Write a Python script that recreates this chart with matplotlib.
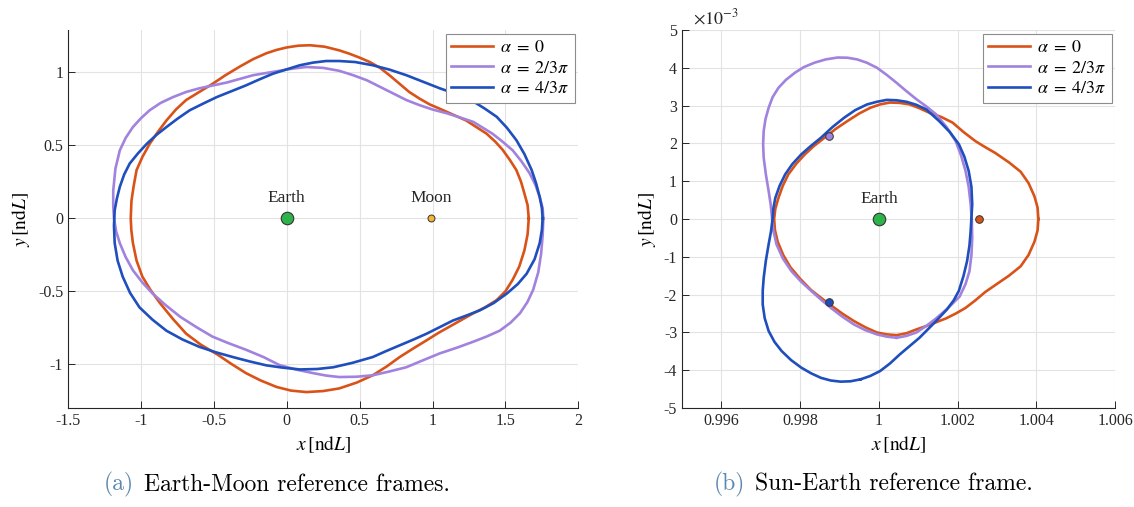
import numpy as np
import matplotlib.pyplot as plt
from matplotlib.ticker import FuncFormatter

plt.rcParams['mathtext.fontset'] = 'stix'
plt.rcParams['font.family'] = ['Liberation Serif', 'DejaVu Serif']

# ---- Earth-Moon frame (left) ----
em_x_a0 = [1.66, 1.652, 1.63, 1.607, 1.575, 1.53, 1.48, 1.43, 1.37, 1.30,
           1.23, 1.14, 1.05, 0.98, 0.91, 0.84, 0.775, 0.71, 0.64, 0.57,
           0.50, 0.43, 0.36, 0.26, 0.16, 0.08, 0.0, -0.07, -0.14, -0.23,
           -0.32, -0.42, -0.51, -0.60, -0.69, -0.76, -0.825, -0.885, -0.94, -0.99,
           -1.03, -1.05, -1.065, -1.07, -1.066, -1.055, -1.03, -0.99, -0.935, -0.87,
           -0.78, -0.69, -0.59, -0.48, -0.38, -0.28, -0.18, -0.07, 0.03, 0.135,
           0.25, 0.36, 0.48, 0.59, 0.685, 0.775, 0.87, 0.96, 1.04, 1.12,
           1.20, 1.28, 1.36, 1.44, 1.50, 1.55, 1.595, 1.63, 1.652, 1.66]
em_y_a0 = [0.0, 0.09, 0.17, 0.25, 0.33, 0.40, 0.47, 0.525, 0.58, 0.625,
           0.67, 0.71, 0.75, 0.78, 0.82, 0.865, 0.92, 0.975, 1.03, 1.07,
           1.10, 1.127, 1.15, 1.175, 1.185, 1.182, 1.17, 1.153, 1.13, 1.09,
           1.04, 0.98, 0.92, 0.865, 0.81, 0.745, 0.67, 0.59, 0.51, 0.42,
           0.33, 0.22, 0.12, 0.0, -0.08, -0.17, -0.29, -0.40, -0.49, -0.58,
           -0.69, -0.79, -0.865, -0.93, -0.997, -1.06, -1.11, -1.155, -1.18, -1.19,
           -1.183, -1.165, -1.125, -1.075, -1.015, -0.95, -0.89, -0.835, -0.785, -0.74,
           -0.695, -0.65, -0.61, -0.56, -0.50, -0.42, -0.33, -0.22, -0.11, 0.0]

em_x_a1 = [1.76, 1.755, 1.735, 1.705, 1.665, 1.61, 1.55, 1.48, 1.41, 1.345,
           1.28, 1.19, 1.095, 1.0, 0.91, 0.82, 0.73, 0.64, 0.55, 0.455,
           0.36, 0.25, 0.135, 0.04, -0.05, -0.14, -0.23, -0.32, -0.41, -0.505,
           -0.60, -0.69, -0.78, -0.865, -0.94, -1.0, -1.055, -1.105, -1.145, -1.175,
           -1.19, -1.19, -1.185, -1.17, -1.145, -1.105, -1.055, -0.99, -0.92, -0.83,
           -0.73, -0.62, -0.51, -0.40, -0.28, -0.16, -0.05, 0.06, 0.18, 0.27,
           0.36, 0.48, 0.59, 0.70, 0.82, 0.94, 1.05, 1.17, 1.28, 1.37,
           1.46, 1.535, 1.60, 1.65, 1.69, 1.725, 1.745, 1.755, 1.76]
em_y_a1 = [0.0, 0.07, 0.146, 0.23, 0.31, 0.39, 0.465, 0.525, 0.58, 0.62,
           0.66, 0.69, 0.72, 0.745, 0.775, 0.81, 0.855, 0.90, 0.945, 0.98,
           1.01, 1.03, 1.036, 1.025, 1.01, 0.995, 0.98, 0.955, 0.93, 0.91,
           0.89, 0.865, 0.83, 0.79, 0.74, 0.685, 0.625, 0.55, 0.465, 0.34,
           0.19, 0.09, 0.0, -0.09, -0.17, -0.265, -0.356, -0.44, -0.515, -0.595,
           -0.675, -0.745, -0.81, -0.855, -0.90, -0.95, -1.005, -1.035, -1.06, -1.077,
           -1.087, -1.085, -1.075, -1.05, -1.02, -0.97, -0.925, -0.885, -0.845, -0.81,
           -0.77, -0.715, -0.65, -0.575, -0.49, -0.37, -0.24, -0.12, 0.0]

em_x_a2 = [1.755, 1.75, 1.735, 1.71, 1.68, 1.63, 1.575, 1.51, 1.44, 1.36,
           1.28, 1.165, 1.05, 0.935, 0.82, 0.705, 0.59, 0.47, 0.36, 0.27,
           0.18, 0.09, 0.0, -0.095, -0.19, -0.28, -0.38, -0.48, -0.57, -0.665,
           -0.745, -0.825, -0.895, -0.96, -1.02, -1.077, -1.115, -1.145, -1.165, -1.18,
           -1.185, -1.18, -1.16, -1.125, -1.075, -1.01, -0.92, -0.825, -0.715, -0.60,
           -0.485, -0.37, -0.255, -0.14, -0.025, 0.09, 0.21, 0.32, 0.45, 0.59,
           0.68, 0.775, 0.87, 0.96, 1.05, 1.14, 1.235, 1.325, 1.42, 1.51,
           1.585, 1.645, 1.70, 1.735, 1.75, 1.755]
em_y_a2 = [0.0, 0.07, 0.146, 0.24, 0.33, 0.44, 0.535, 0.62, 0.695, 0.75,
           0.80, 0.85, 0.89, 0.935, 0.98, 1.018, 1.048, 1.07, 1.077, 1.077,
           1.066, 1.048, 1.02, 0.99, 0.95, 0.91, 0.87, 0.83, 0.787, 0.74,
           0.685, 0.625, 0.57, 0.51, 0.445, 0.375, 0.30, 0.215, 0.135, 0.055,
           -0.05, -0.17, -0.29, -0.40, -0.51, -0.61, -0.695, -0.77, -0.83, -0.88,
           -0.918, -0.95, -0.98, -1.007, -1.023, -1.035, -1.032, -1.02, -0.99, -0.95,
           -0.91, -0.87, -0.83, -0.79, -0.745, -0.70, -0.665, -0.63, -0.58, -0.515,
           -0.45, -0.38, -0.28, -0.17, -0.08, 0.0]

earth_em = (0.0, 0.0)
moon_em = (0.988, 0.0)

# ---- Sun-Earth frame (right), y in units of 1e-3 ----
se_x_a0 = [1.00405, 1.00403, 1.00395, 1.0038, 1.0036, 1.0033, 1.00295, 1.0027, 1.00245, 1.00215,
           1.00187, 1.00158, 1.00128, 1.00103, 1.00078, 1.00053, 1.00028, 1.00003, 0.99978, 0.9995,
           0.9992, 0.9989, 0.99862, 0.99835, 0.99812, 0.9979, 0.9977, 0.99756, 0.99745, 0.99737,
           0.99734, 0.99736, 0.99743, 0.99757, 0.99775, 0.998, 0.99828, 0.99855, 0.99878, 0.99907,
           0.99937, 0.99967, 0.99995, 1.0002, 1.00045, 1.0007, 1.00095, 1.0012, 1.00145, 1.0017,
           1.00195, 1.0022, 1.00245, 1.0027, 1.00295, 1.0033, 1.0036, 1.0038, 1.00395, 1.00403,
           1.00405]
se_y_a0 = [0.0, 0.3, 0.6, 0.95, 1.25, 1.5, 1.75, 1.9, 2.06, 2.3,
           2.55, 2.7, 2.81, 2.93, 3.03, 3.07, 3.08, 3.03, 2.94, 2.79,
           2.59, 2.38, 2.15, 1.93, 1.71, 1.46, 1.18, 0.88, 0.56, 0.27,
           0.0, -0.29, -0.6, -0.95, -1.27, -1.58, -1.88, -2.1, -2.28, -2.5,
           -2.7, -2.87, -3.0, -3.05, -3.07, -3.02, -2.92, -2.83, -2.73, -2.63,
           -2.5, -2.35, -2.15, -1.93, -1.75, -1.5, -1.25, -0.95, -0.6, -0.3,
           0.0]

se_x_a1 = [1.00045, 1.0007, 1.00095, 1.0012, 1.00145, 1.00175, 1.00205, 1.0022, 1.0023, 1.00235,
           1.00237, 1.00236, 1.00233, 1.00228, 1.0022, 1.00209, 1.00195, 1.00172, 1.00145, 1.0012,
           1.00095, 1.0007, 1.00045, 1.0002, 0.99995, 0.9997, 0.99945, 0.9992, 0.99895, 0.99865,
           0.99837, 0.9981, 0.99787, 0.99764, 0.99745, 0.9973, 0.9972, 0.99712, 0.997075, 0.99706,
           0.997075, 0.99713, 0.9972, 0.99725, 0.99728, 0.99732, 0.9974, 0.99756, 0.99778, 0.99802,
           0.99828, 0.99853, 0.99878, 0.99907, 0.99937, 0.99966, 0.99995, 1.0002, 1.00045]
se_y_a1 = [-3.14, -3.09, -3.0, -2.83, -2.63, -2.36, -2.05, -1.72, -1.38, -0.95,
           -0.5, -0.05, 0.39, 0.85, 1.27, 1.67, 2.06, 2.43, 2.77, 2.98,
           3.17, 3.38, 3.6, 3.81, 4.0, 4.13, 4.22, 4.265, 4.27, 4.22,
           4.135, 4.02, 3.87, 3.68, 3.47, 3.22, 2.94, 2.64, 2.33, 1.98,
           1.62, 1.18, 0.74, 0.4, 0.1, -0.3, -0.67, -1.04, -1.38, -1.65,
           -1.9, -2.13, -2.35, -2.58, -2.79, -2.94, -3.05, -3.11, -3.14]

se_x_a2 = [0.99953, 0.99978, 1.00003, 1.00028, 1.00053, 1.00078, 1.00103, 1.00125, 1.00145, 1.00172,
           1.0019, 1.00203, 1.00215, 1.00224, 1.0023, 1.00233, 1.00237, 1.00235, 1.00228, 1.00217,
           1.00203, 1.0018, 1.00153, 1.0012, 1.00095, 1.0007, 1.00045, 1.0002, 0.99995, 0.9997,
           0.9994, 0.99912, 0.99882, 0.99853, 0.99827, 0.99803, 0.9978, 0.99762, 0.99748, 0.99737,
           0.99732, 0.9973, 0.99726, 0.9972, 0.99713, 0.997075, 0.99705, 0.99705, 0.9971, 0.9972,
           0.99735, 0.99753, 0.99777, 0.99803, 0.99828, 0.99853, 0.99878, 0.99903, 0.99928, 0.99953]
se_y_a2 = [-4.24, -4.15, -4.02, -3.82, -3.58, -3.36, -3.14, -2.91, -2.7, -2.4,
           -2.15, -1.9, -1.5, -1.11, -0.7, -0.32, 0.39, 0.85, 1.27, 1.65,
           1.98, 2.3, 2.59, 2.9, 3.02, 3.1, 3.14, 3.15, 3.1, 3.03,
           2.88, 2.68, 2.43, 2.15, 1.93, 1.71, 1.45, 1.18, 0.88, 0.56,
           0.28, 0.0, -0.33, -0.67, -1.1, -1.55, -1.9, -2.26, -2.62, -2.96,
           -3.25, -3.49, -3.73, -3.93, -4.08, -4.2, -4.27, -4.3, -4.29, -4.24]

earth_se = (1.0, 0.0)
dots_se_x = [1.00255, 0.998725, 0.998725]
dots_se_y = [0.0, 2.2, -2.2]

labels = [r'$\alpha\;=\;0$', r'$\alpha\;=\;2/3\pi$', r'$\alpha\;=\;4/3\pi$']
colors = ['#D95319', '#A182DE', '#1F4EBD']
lw = 1.9

fig = plt.figure(figsize=(11.34, 5.07), dpi=100)
ax1 = fig.add_axes([0.060, 0.195, 0.450, 0.746])
ax2 = fig.add_axes([0.6014, 0.195, 0.382, 0.746])

fmt = FuncFormatter(lambda v, p: '%g' % round(v, 6))


def style(ax):
    for s in ['top', 'right']:
        ax.spines[s].set_visible(False)
    for s in ['left', 'bottom']:
        ax.spines[s].set_color('#262626')
        ax.spines[s].set_linewidth(0.8)
    ax.tick_params(direction='in', length=5, width=0.7, colors='#262626', labelsize=11.5)
    ax.grid(True, color='#e3e3e3', linewidth=0.8)
    ax.set_axisbelow(True)
    ax.set_xlabel(r'$x\,[\mathrm{nd}L]$', fontsize=14, labelpad=4)
    ax.set_ylabel(r'$y\,[\mathrm{nd}L]$', fontsize=14, labelpad=4)


def add_legend(ax):
    leg = ax.legend(loc='upper right', fontsize=13, fancybox=False, framealpha=1,
                    edgecolor='#8c8c8c', handlelength=2.3, borderpad=0.3, labelspacing=0.2,
                    handletextpad=0.4, borderaxespad=0.2)
    leg.get_frame().set_linewidth(0.8)


# left
series_em = [(em_x_a0, em_y_a0), (em_x_a1, em_y_a1), (em_x_a2, em_y_a2)]
for (xs, ys), c, lab in zip(series_em, colors, labels):
    ax1.plot(xs, ys, color=c, lw=lw, label=lab)
ax1.plot(*earth_em, 'o', ms=9, mfc='#2DB34A', mec='#333333', mew=0.8)
ax1.plot(*moon_em, 'o', ms=5, mfc='#F4B731', mec='#333333', mew=0.7)
ax1.annotate('Earth', earth_em, xytext=(0, 9), textcoords='offset points',
             ha='center', va='bottom', fontsize=12.5, color='#262626')
ax1.annotate('Moon', moon_em, xytext=(0, 9), textcoords='offset points',
             ha='center', va='bottom', fontsize=12.5, color='#262626')
ax1.set_xlim(-1.5, 2)
ax1.set_ylim(-1.3, 1.29)
ax1.set_xticks(np.arange(-1.5, 2.01, 0.5))
ax1.set_yticks([-1, -0.5, 0, 0.5, 1])
ax1.xaxis.set_major_formatter(fmt)
ax1.yaxis.set_major_formatter(fmt)
style(ax1)
add_legend(ax1)

# right
series_se = [(se_x_a0, se_y_a0), (se_x_a1, se_y_a1), (se_x_a2, se_y_a2)]
for (xs, ys), c, lab in zip(series_se, colors, labels):
    ax2.plot(xs, np.array(ys) * 1e-3, color=c, lw=lw, label=lab)
ax2.plot(earth_se[0], earth_se[1], 'o', ms=9, mfc='#2DB34A', mec='#333333', mew=0.8)
for dx, dy, c in zip(dots_se_x, dots_se_y, colors):
    ax2.plot(dx, dy * 1e-3, 'o', ms=5.5, mfc=c, mec='#333333', mew=0.7)
ax2.annotate('Earth', earth_se, xytext=(0, 9), textcoords='offset points',
             ha='center', va='bottom', fontsize=12.5, color='#262626')
ax2.set_xlim(0.995, 1.006)
ax2.set_ylim(-5e-3, 5e-3)
ax2.set_xticks(np.arange(0.996, 1.0061, 0.002))
ax2.set_yticks(np.arange(-5, 6) * 1e-3)
ax2.xaxis.set_major_formatter(fmt)
ax2.yaxis.set_major_formatter(FuncFormatter(lambda v, p: '%g' % round(v * 1e3, 6)))
ax2.text(0.025, 1.005, r'$\times10^{-3}$', transform=ax2.transAxes, fontsize=13,
         ha='left', va='bottom', color='#262626')
style(ax2)
add_legend(ax2)

# captions
cap_col = '#5E88AE'
fig.text(0.118, 0.032, '(a)', color=cap_col, fontsize=17, family='cmr10', ha='right')
fig.text(0.127, 0.032, 'Earth-Moon reference frames.', color='black', fontsize=17,
         family='cmr10', ha='left')
fig.text(0.657, 0.032, '(b)', color=cap_col, fontsize=17, family='cmr10', ha='right')
fig.text(0.666, 0.032, 'Sun-Earth reference frame.', color='black', fontsize=17,
         family='cmr10', ha='left')

fig.savefig('out.png', dpi=100)
